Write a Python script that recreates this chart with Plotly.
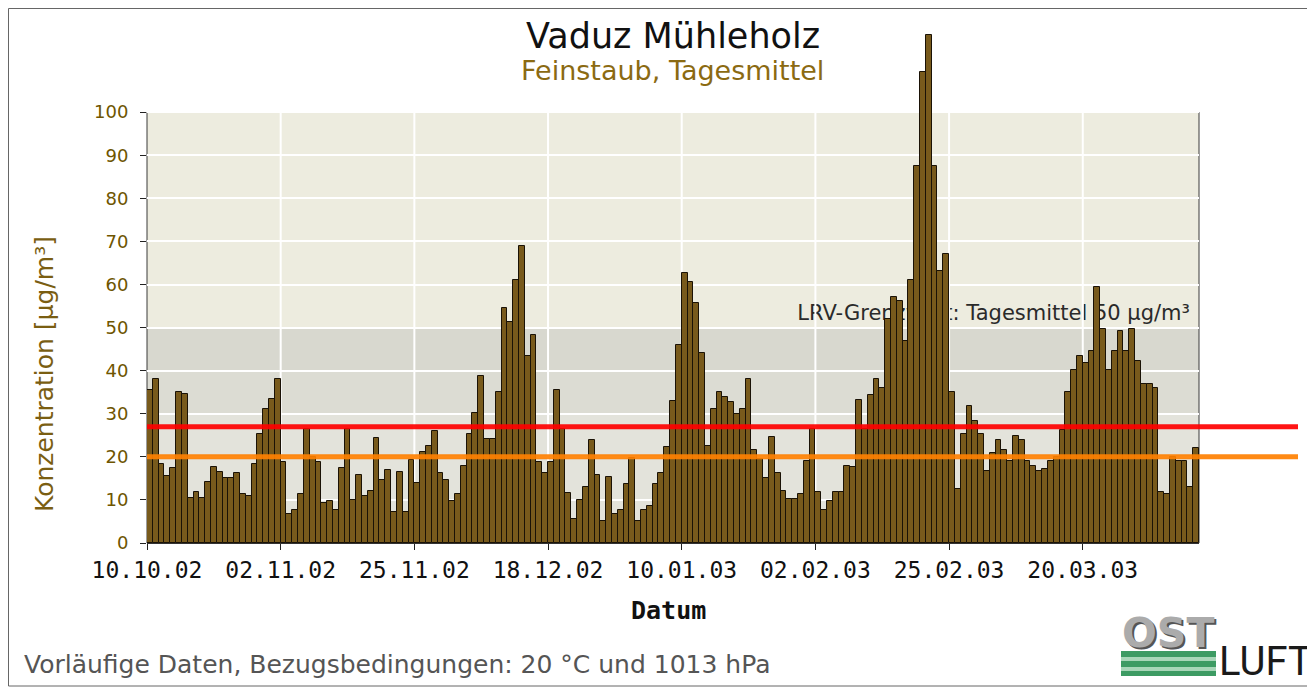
import pandas as pd
import plotly.graph_objects as go

# ---------------- data (daily PM10 means, µg/m³) ----------------
start_date = "2002-10-10"
oct_02 = [35.4, 38, 18.4, 15.6, 17.4, 35, 34.5, 10.4, 11.9, 10.5, 14.1, 17.7,
          16.4, 15, 15, 16.3, 11.4, 11, 18.4, 25.3, 31, 33.4]
nov_02 = [38, 18.9, 6.7, 7.7, 11.4, 26.4, 20, 18.9, 9.2, 9.7, 7.7, 17.4, 26.4,
          10, 15.8, 11, 12, 24.3, 14.7, 16.9, 7.3, 16.4, 7.3, 19.3,
          14, 21.2, 22.6, 25.9, 16.2, 14.7]
dec_02 = [9.8, 11.4, 17.9, 25.3, 30.2, 38.7, 24.1, 24.1, 35, 54.6, 51.2, 61, 69,
          43.5, 48.2, 18.9, 16.2, 18.9, 35.4, 26.4, 11.5, 5.5, 9.9, 13.1, 23.8,
          15.8, 5, 15.3, 6.7, 7.7, 13.6]
jan_03 = [19.7, 5, 7.7, 8.5, 13.6, 16.2, 22.3, 32.9, 46, 62.6, 60.5, 55.7, 44,
          22.6, 31.1, 35, 34, 32.7, 30, 31.1, 38, 21.5, 19.5, 15, 24.7, 16.2,
          12.1, 10.2, 10.2, 11.3, 19]
feb_03 = [26.4, 11.9, 7.7, 9.8, 11.9, 11.9, 17.9, 17.6, 33.3, 26.5, 34.4, 38, 36,
          51.9, 57.1, 56.1, 47, 61, 87.5, 109.4, 118, 87.5, 63.2, 67,
          35, 12.5, 25.3, 31.7]
mar_03 = [28.4, 25.3, 16.8, 21, 23.8, 21.7, 19, 24.9, 23.8, 19, 17.8, 16.6, 17.2,
          19, 20, 26.3, 35, 40.2, 43.5, 41.8, 44.5, 59.5, 49.7, 40.2, 44.5, 49.2,
          44.5, 49.7, 42.2, 37, 37]
apr_03 = [36, 11.9, 11.4, 20, 19, 19, 13.1, 22]

tick_labels = ["10.10.02", "02.11.02", "25.11.02", "18.12.02",
               "10.01.03", "02.02.03", "25.02.03", "20.03.03"]
y_ticks = [0, 10, 20, 30, 40, 50, 60, 70, 80, 90, 100]
y_frame_top = 100          # framed plot area ends at 100, bars may overflow
red_line_value = 27
orange_line_value = 20
lrv_limit = 50

values = oct_02 + nov_02 + dec_02 + jan_03 + feb_03 + mar_03 + apr_03
dates = pd.date_range(start_date, periods=len(values), freq="D")
tick_dates = pd.to_datetime(tick_labels, format="%d.%m.%y")
DAY_MS = 86400000

# ---------------- geometry (screen pixels; page body has an 8px margin) ----------------
OFF = 8
W, H = 1315 - OFF, 687 - OFF
L, R, T, B = 147, 1199, 26, 543          # plot area in screen pixels (top = value 120)


def sx(x):
    return (x - L) / (R - L)


def sy(y):
    return (B - y) / (B - T)


fig = go.Figure()
fig.add_trace(go.Bar(
    x=dates, y=values,
    xperiod=DAY_MS, xperiodalignment="middle", width=DAY_MS,
    marker=dict(color="#785a1c", line=dict(color="#1a1206", width=1)),
    hoverinfo="x+y",
))

shapes = []
# background bands (below gridlines)
for y0, y1, col in [(0, 30, "#e3e3db"), (30, 40, "#dcdcd3"),
                    (40, 50, "#d8d8cf"), (50, 100, "#edecdf")]:
    shapes.append(dict(type="rect", xref="paper", yref="y", x0=0, x1=1, y0=y0, y1=y1,
                       fillcolor=col, line=dict(width=0), layer="below"))
# vertical gridlines limited to the framed area
for d in tick_dates[1:]:
    shapes.append(dict(type="line", xref="x", yref="y", x0=d, x1=d, y0=0, y1=y_frame_top,
                       line=dict(color="white", width=2), layer="below"))
# frame of the plot area (under the bars)
shapes.append(dict(type="rect", xref="paper", yref="y", x0=0, x1=1, y0=0, y1=y_frame_top,
                   line=dict(color="#3a3a3a", width=1), fillcolor="rgba(0,0,0,0)",
                   layer="between"))
# LRV label (drawn beneath bars)
shapes.append(dict(type="rect", xref="paper", yref="y", x0=sx(500), x1=sx(1193),
                   y0=lrv_limit + 1, y1=lrv_limit + 6.5, line=dict(width=0),
                   fillcolor="rgba(0,0,0,0)", layer="between",
                   label=dict(text="LRV-Grenzwert: Tagesmittel 50 µg/m³",
                              textposition="middle right", padding=0,
                              font=dict(family="DejaVu Sans", size=21, color="#2a2a2a"))))
# reference lines
for val, col in [(red_line_value, "rgba(255,0,0,0.92)"),
                 (orange_line_value, "rgba(255,128,0,0.92)")]:
    shapes.append(dict(type="line", xref="paper", yref="y", x0=0, x1=sx(1298),
                       y0=val, y1=val, line=dict(color=col, width=5), layer="above"))
# outer frame
shapes.append(dict(type="rect", xref="paper", yref="paper", x0=sx(8.5), x1=sx(1311),
                   y0=sy(686), y1=sy(8.5), line=dict(color="#666", width=1),
                   fillcolor="rgba(0,0,0,0)", layer="above"))
# logo stripes
for y0, y1, col in [(651, 657, "#3d9b63"), (657, 661, "#a8d6b8"),
                    (661, 667, "#3d9b63"), (667, 671, "#a8d6b8"), (671, 676, "#3d9b63")]:
    shapes.append(dict(type="rect", xref="paper", yref="paper", x0=sx(1121), x1=sx(1216),
                       y0=sy(y1), y1=sy(y0), fillcolor=col, line=dict(width=0),
                       layer="above"))

annotations = [
    dict(text="Vaduz Mühleholz", x=sx(673), y=sy(36),
         font=dict(size=35, color="#111", family="DejaVu Sans")),
    dict(text="Feinstaub, Tagesmittel", x=sx(672), y=sy(70),
         font=dict(size=27, color="#8b6a12", family="DejaVu Sans")),
    dict(text="Konzentration [µg/m³]", x=sx(45), y=sy(374), textangle=-90,
         font=dict(size=25, color="#7a5e12", family="DejaVu Sans")),
    dict(text="<b>Datum</b>", x=sx(668), y=sy(610),
         font=dict(size=25, color="#111", family="DejaVu Sans Mono")),
    dict(text="Vorläufige Daten, Bezugsbedingungen: 20 °C und 1013 hPa", x=sx(22), y=sy(664),
         xanchor="left", font=dict(size=25, color="#555", family="DejaVu Sans")),
    dict(text="<b>OST</b>", x=sx(1170), y=sy(635),
         font=dict(size=41, color="#555555", family="DejaVu Sans")),
    dict(text="<b>OST</b>", x=sx(1168), y=sy(633),
         font=dict(size=41, color="#ababab", family="DejaVu Sans")),
    dict(text="LUFT", x=sx(1217), y=sy(661), xanchor="left",
         font=dict(size=40, color="#1a1a1a", family="Roboto")),
]
for a in annotations:
    a.setdefault("xanchor", "center")
    a.update(xref="paper", yref="paper", yanchor="middle", showarrow=False)

fig.update_layout(
    width=W, height=H,
    margin=dict(l=L - OFF, r=W - (R - OFF), t=T - OFF, b=H - (B - OFF), pad=0),
    paper_bgcolor="white", plot_bgcolor="white",
    bargap=0, showlegend=False,
    shapes=shapes, annotations=annotations,
    xaxis=dict(type="date", range=[dates[0], dates[-1] + pd.Timedelta(days=1)],
               tickvals=tick_dates, ticktext=tick_labels,
               ticks="outside", ticklen=6, tickcolor="#222",
               showgrid=False, showline=True, linecolor="#333", linewidth=1,
               tickfont=dict(family="DejaVu Sans Mono", size=23, color="#111"),
               zeroline=False),
    yaxis=dict(range=[0, 120], tickvals=y_ticks, ticks="outside", ticklen=6,
               tickcolor="#222", showgrid=True, gridcolor="white", gridwidth=2,
               showline=False,
               tickfont=dict(family="DejaVu Sans", size=18, color="#6e5500"),
               ticklabelstandoff=8, zeroline=False),
)

fig.write_html("out.html")
